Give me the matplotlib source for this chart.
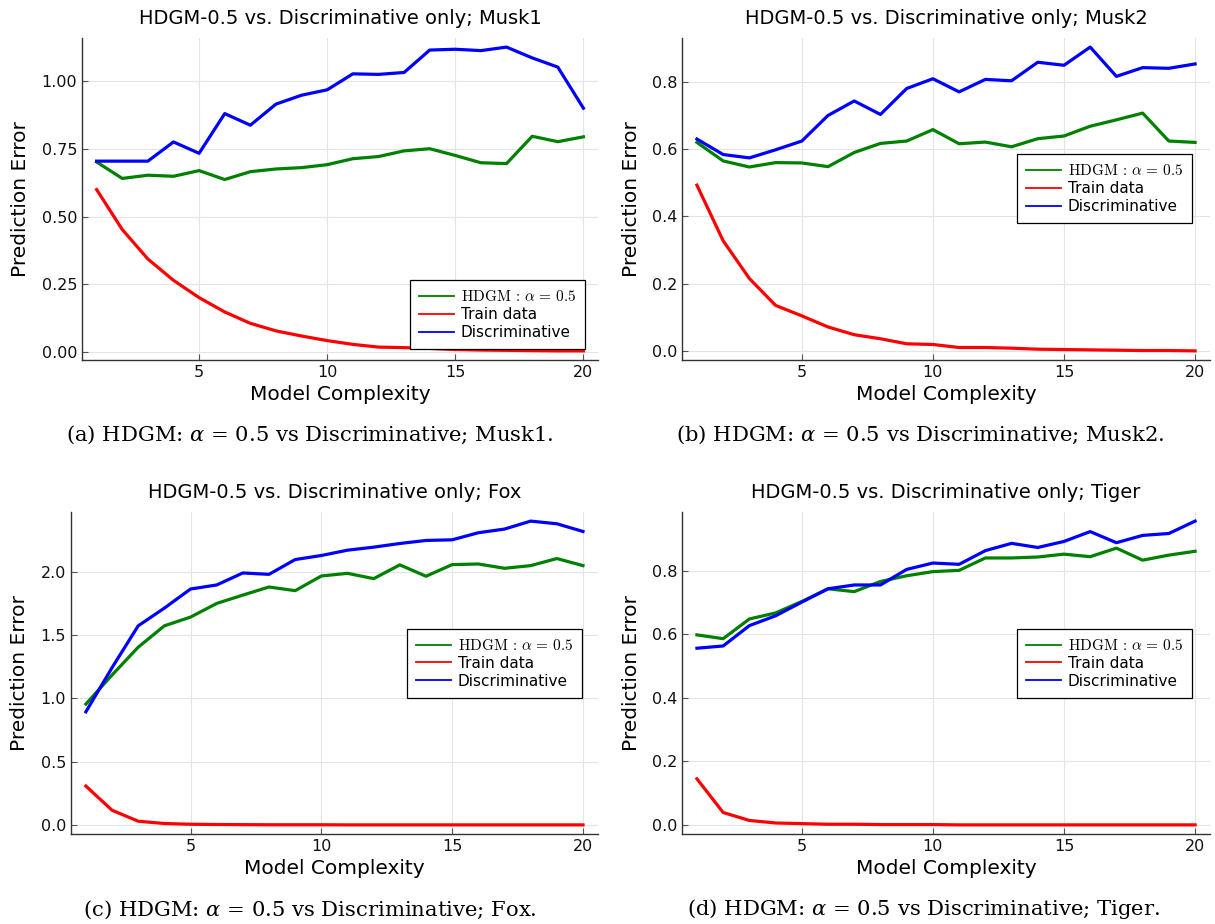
import matplotlib
matplotlib.use("Agg")
import matplotlib.pyplot as plt
from matplotlib.lines import Line2D
from matplotlib.font_manager import FontProperties

complexity = list(range(1, 21))

# Musk1
musk1_hdgm = [0.702, 0.641, 0.653, 0.649, 0.670, 0.637, 0.666, 0.676, 0.681, 0.692,
              0.714, 0.722, 0.743, 0.751, 0.726, 0.699, 0.696, 0.797, 0.777, 0.795]
musk1_train = [0.600, 0.452, 0.343, 0.264, 0.200, 0.147, 0.105, 0.077, 0.058, 0.041,
               0.027, 0.017, 0.015, 0.012, 0.008, 0.006, 0.005, 0.004, 0.003, 0.003]
musk1_disc = [0.705, 0.705, 0.705, 0.776, 0.734, 0.881, 0.838, 0.916, 0.949, 0.969,
              1.028, 1.026, 1.033, 1.116, 1.119, 1.114, 1.127, 1.087, 1.053, 0.901]

# Musk2
musk2_hdgm = [0.620, 0.565, 0.547, 0.560, 0.559, 0.548, 0.590, 0.617, 0.624, 0.658,
              0.616, 0.621, 0.607, 0.631, 0.639, 0.668, 0.687, 0.707, 0.624, 0.620]
musk2_train = [0.493, 0.328, 0.216, 0.136, 0.105, 0.072, 0.049, 0.037, 0.022, 0.020,
               0.011, 0.011, 0.009, 0.006, 0.005, 0.004, 0.003, 0.002, 0.002, 0.001]
musk2_disc = [0.630, 0.584, 0.574, 0.598, 0.624, 0.700, 0.743, 0.703, 0.780, 0.809,
              0.770, 0.807, 0.803, 0.858, 0.849, 0.903, 0.816, 0.842, 0.840, 0.853]

# Fox
fox_hdgm = [0.955, 1.185, 1.405, 1.574, 1.643, 1.751, 1.817, 1.881, 1.852, 1.968,
            1.989, 1.947, 2.056, 1.966, 2.058, 2.063, 2.029, 2.050, 2.106, 2.050]
fox_train = [0.307, 0.116, 0.029, 0.011, 0.005, 0.003, 0.002, 0.001, 0.001, 0.001,
             0.000, 0.000, 0.000, 0.000, 0.000, 0.000, 0.000, 0.000, 0.000, 0.000]
fox_disc = [0.894, 1.243, 1.574, 1.714, 1.865, 1.897, 1.992, 1.981, 2.098, 2.130,
            2.172, 2.196, 2.225, 2.249, 2.254, 2.310, 2.339, 2.402, 2.381, 2.320]

# Tiger
tiger_hdgm = [0.598, 0.586, 0.648, 0.667, 0.703, 0.743, 0.734, 0.766, 0.784, 0.797,
              0.801, 0.840, 0.840, 0.843, 0.852, 0.844, 0.871, 0.833, 0.849, 0.861]
tiger_train = [0.145, 0.039, 0.014, 0.006, 0.004, 0.002, 0.002, 0.001, 0.001, 0.001,
               0.000, 0.000, 0.000, 0.000, 0.000, 0.000, 0.000, 0.000, 0.000, 0.000]
tiger_disc = [0.556, 0.563, 0.627, 0.658, 0.701, 0.743, 0.755, 0.755, 0.804, 0.824,
              0.820, 0.863, 0.886, 0.873, 0.892, 0.923, 0.888, 0.911, 0.917, 0.956]

datasets = ["Musk1", "Musk2", "Fox", "Tiger"]
letters = ["a", "b", "c", "d"]
series = [(musk1_hdgm, musk1_train, musk1_disc),
          (musk2_hdgm, musk2_train, musk2_disc),
          (fox_hdgm, fox_train, fox_disc),
          (tiger_hdgm, tiger_train, tiger_disc)]
yticks = [[0, 0.25, 0.5, 0.75, 1.0], [0, 0.2, 0.4, 0.6, 0.8],
          [0, 0.5, 1.0, 1.5, 2.0], [0, 0.2, 0.4, 0.6, 0.8]]
yfmt = ["{:.2f}", "{:.1f}", "{:.1f}", "{:.1f}"]

# axes rectangles (fig fractions) and legend anchors
rects = [[0.0675, 0.6104, 0.4247, 0.3485],
         [0.5613, 0.6104, 0.4346, 0.3485],
         [0.0584, 0.0974, 0.4337, 0.3485],
         [0.5613, 0.0974, 0.4346, 0.3485]]
leg_loc = [("lower right", (0.975, 0.034)), ("upper right", (0.966, 0.639)),
           ("upper right", (0.970, 0.637)), ("upper right", (0.966, 0.637))]
caption_pos = [(0.255, 0.517), (0.757, 0.517), (0.255, 0.003), (0.760, 0.003)]

fig = plt.figure(figsize=(12.15, 9.24), dpi=100)

cm_prop = FontProperties(family="DejaVu Sans", size=11, math_fontfamily="cm")

for i in range(4):
    ax = fig.add_axes(rects[i])
    hdgm, train, disc = series[i]
    ax.plot(complexity, hdgm, color="green", lw=2.3)
    ax.plot(complexity, train, color="red", lw=2.3)
    ax.plot(complexity, disc, color="blue", lw=2.3)
    ax.margins(x=0.03, y=0.03)
    ax.set_xticks([5, 10, 15, 20])
    ax.set_yticks(yticks[i])
    ax.set_yticklabels([yfmt[i].format(v) for v in yticks[i]])
    ax.grid(True, color="#e4e4e4", lw=0.8)
    ax.set_axisbelow(True)
    for s in ["top", "right"]:
        ax.spines[s].set_visible(False)
    for s in ["left", "bottom"]:
        ax.spines[s].set_color("#333333")
        ax.spines[s].set_linewidth(1.0)
    ax.tick_params(direction="in", length=4, width=0.8, color="#555555",
                   labelsize=11.5, labelcolor="#111111")
    ax.set_title("HDGM-0.5 vs. Discriminative only; " + datasets[i], fontsize=14, pad=10)
    ax.set_xlabel("Model Complexity", fontsize=14.5, labelpad=4)
    ax.set_ylabel("Prediction Error", fontsize=14.5, labelpad=8)

    handles = [Line2D([], [], color="green", lw=1.3),
               Line2D([], [], color="red", lw=1.3),
               Line2D([], [], color="blue", lw=1.3)]
    labels = [r"$\mathrm{HDGM}\,:\,\alpha\,=\,0.5$", "Train data", "Discriminative"]
    loc, anchor = leg_loc[i]
    leg = ax.legend(handles, labels, loc=loc, bbox_to_anchor=anchor, prop=cm_prop,
                    fancybox=False, framealpha=1, edgecolor="black",
                    borderpad=0.6, labelspacing=0.18, handlelength=2.3,
                    handletextpad=0.4, borderaxespad=0)
    leg.get_frame().set_linewidth(0.9)

    fig.text(caption_pos[i][0], caption_pos[i][1],
             "(" + letters[i] + r") HDGM: $\alpha$ = 0.5 vs Discriminative; " + datasets[i] + ".",
             ha="center", va="bottom", fontsize=15.2, family="DejaVu Serif",
             math_fontfamily="dejavuserif")

fig.savefig("out.png", dpi=100)
